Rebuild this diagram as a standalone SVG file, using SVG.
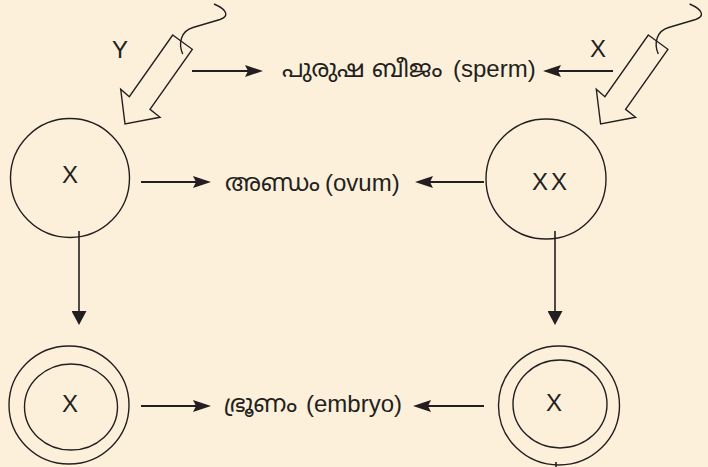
<svg xmlns="http://www.w3.org/2000/svg" xmlns:xlink="http://www.w3.org/1999/xlink" width="708" height="467" viewBox="0 0 708 467">
<style>
.ln{stroke:#231f20;fill:none}
.h{stroke-width:2.2}
.v{stroke-width:1.6}
.c{stroke:#231f20;stroke-width:1.4;fill:none}
.sp{stroke:#231f20;stroke-width:1.4;fill:none;stroke-linejoin:miter}
.t{font-family:"Liberation Sans","Noto Sans",sans-serif;fill:#231f20;font-size:24px}
.m{font-family:"Noto Sans Malayalam","Noto Sans","Liberation Sans",sans-serif;fill:#231f20;font-size:24px}
</style>
<defs>
<marker id="ah" viewBox="0 0 18 12" refX="8" refY="6" markerWidth="18" markerHeight="12" markerUnits="userSpaceOnUse" orient="auto">
<path d="M0,0 L18,6 L0,12 L3,6 z" fill="#231f20"/>
</marker>
<marker id="av" viewBox="0 0 14 15" refX="4" refY="7.5" markerWidth="14" markerHeight="15" markerUnits="userSpaceOnUse" orient="auto">
<path d="M0,0 L14,7.5 L0,15 z" fill="#231f20"/>
</marker>
<g id="sperm">
<polygon class="sp" points="172.7,35 192.3,49.3 150,109.3 160,117.3 125,124 120.7,89.3 129.3,96.7"/>
<path class="sp" d="M182.7,54 C178,43 181,31 193,27.5 L220,19.5 C229,16.5 228,10 214,4"/>
</g>
</defs>
<rect width="708" height="467" fill="#fdf0db"/>
<g id="sperm-left"><use xlink:href="#sperm" href="#sperm"/></g>
<g id="sperm-right"><use xlink:href="#sperm" href="#sperm" transform="translate(475.6,0)"/></g>
<g id="connectors">
<line class="ln h" x1="192" y1="71" x2="253" y2="71" marker-end="url(#ah)"/>
<line class="ln h" x1="613" y1="71" x2="553" y2="71" marker-end="url(#ah)"/>
<line class="ln h" x1="141" y1="182" x2="201" y2="182" marker-end="url(#ah)"/>
<line class="ln h" x1="484" y1="182" x2="425" y2="182" marker-end="url(#ah)"/>
<line class="ln h" x1="141" y1="406" x2="201" y2="406" marker-end="url(#ah)"/>
<line class="ln h" x1="484" y1="406" x2="423" y2="406" marker-end="url(#ah)"/>
<line class="ln v" x1="79" y1="231" x2="79" y2="315" marker-end="url(#av)"/>
<line class="ln v" x1="555" y1="231" x2="555" y2="315" marker-end="url(#av)"/>
<line class="ln v" x1="556" y1="462" x2="556" y2="467"/>
</g>
<g id="label-y"><text class="t" x="120" y="58" text-anchor="middle" font-size="25">Y</text></g>
<g id="label-x"><text class="t" x="598" y="57" text-anchor="middle" font-size="22">X</text></g>
<g id="label-sperm"><text class="m" x="282" y="77">പുരുഷ ബീജം</text><text class="t" x="453" y="77">(sperm)</text></g>
<g id="label-ovum"><text class="m" x="225" y="191">അണ്ഡം</text><text class="t" x="325" y="191">(ovum)</text></g>
<g id="label-embryo"><text class="m" x="224" y="412">ഭ്രൂണം</text><text class="t" x="306" y="412">(embryo)</text></g>
<g id="node-father">
<circle class="c" cx="70" cy="178" r="59.5"/>
<text class="t" x="70" y="183" text-anchor="middle">X</text>
</g>
<g id="node-mother">
<circle class="c" cx="546" cy="179" r="60"/>
<text class="t" x="551" y="190" text-anchor="middle" letter-spacing="3">XX</text>
</g>
<g id="node-embryo-left">
<ellipse class="c" cx="69" cy="405" rx="60" ry="59"/>
<ellipse class="c" cx="71" cy="407" rx="46.5" ry="43"/>
<text class="t" x="70" y="412" text-anchor="middle">X</text>
</g>
<g id="node-embryo-right">
<ellipse class="c" cx="559" cy="405.5" rx="60.5" ry="59.5"/>
<ellipse class="c" cx="560" cy="404" rx="47" ry="44"/>
<text class="t" x="554" y="411" text-anchor="middle">X</text>
</g>
</svg>
